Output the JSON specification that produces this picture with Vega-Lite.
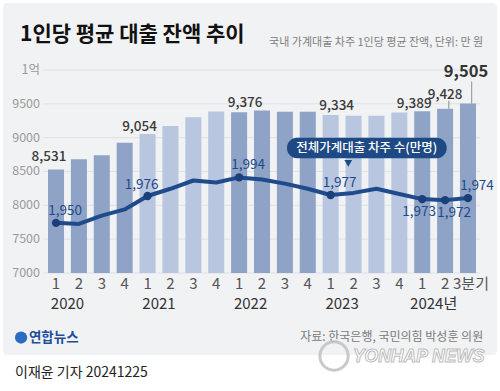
{
  "$schema": "https://vega.github.io/schema/vega-lite/v6.json",
  "width": 494,
  "height": 352,
  "autosize": {"type": "none"},
  "padding": {"left": 3, "top": 3, "right": 3, "bottom": 36},
  "background": "#ffffff",
  "config": {
    "view": {"fill": "#f1f2f4", "stroke": null, "cornerRadius": 4},
    "font": "Noto Sans CJK KR",
    "text": {"font": "Noto Sans CJK KR"}
  },
  "title": {
    "text": "1인당 평균 대출 잔액 추이",
    "anchor": "start",
    "frame": "group",
    "orient": "top",
    "offset": -59,
    "baseline": "alphabetic",
    "dx": 17,
    "fontSize": 21,
    "fontWeight": "bold",
    "color": "#111111",
    "font": "Noto Sans CJK KR"
  },
  "datasets": {
    "quarters": [
      {"key": "2020-1", "year": 2020, "q": 1, "amt": 8531, "cnt": 1950},
      {"key": "2020-2", "year": 2020, "q": 2, "amt": 8680, "cnt": 1949},
      {"key": "2020-3", "year": 2020, "q": 3, "amt": 8740, "cnt": 1957},
      {"key": "2020-4", "year": 2020, "q": 4, "amt": 8925, "cnt": 1963},
      {"key": "2021-1", "year": 2021, "q": 1, "amt": 9054, "cnt": 1976},
      {"key": "2021-2", "year": 2021, "q": 2, "amt": 9171, "cnt": 1983},
      {"key": "2021-3", "year": 2021, "q": 3, "amt": 9300, "cnt": 1991},
      {"key": "2021-4", "year": 2021, "q": 4, "amt": 9385, "cnt": 1989},
      {"key": "2022-1", "year": 2022, "q": 1, "amt": 9376, "cnt": 1994},
      {"key": "2022-2", "year": 2022, "q": 2, "amt": 9400, "cnt": 1992},
      {"key": "2022-3", "year": 2022, "q": 3, "amt": 9382, "cnt": 1988},
      {"key": "2022-4", "year": 2022, "q": 4, "amt": 9382, "cnt": 1983},
      {"key": "2023-1", "year": 2023, "q": 1, "amt": 9334, "cnt": 1977},
      {"key": "2023-2", "year": 2023, "q": 2, "amt": 9322, "cnt": 1979},
      {"key": "2023-3", "year": 2023, "q": 3, "amt": 9322, "cnt": 1983},
      {"key": "2023-4", "year": 2023, "q": 4, "amt": 9370, "cnt": 1978},
      {"key": "2024-1", "year": 2024, "q": 1, "amt": 9389, "cnt": 1973},
      {"key": "2024-2", "year": 2024, "q": 2, "amt": 9428, "cnt": 1972},
      {"key": "2024-3", "year": 2024, "q": 3, "amt": 9505, "cnt": 1974}
    ],
    "grid": [
      {"v": 7000}, {"v": 7500}, {"v": 8000}, {"v": 8500}, {"v": 9000}, {"v": 9500}, {"v": 10000}
    ]
  },
  "data": {"name": "quarters"},
  "encoding": {
    "x": {
      "field": "key",
      "type": "ordinal",
      "scale": {"type": "band", "range": [45, 473], "paddingInner": 0.3, "paddingOuter": 0},
      "axis": {
        "title": null,
        "orient": "bottom",
        "offset": -79,
        "domain": false,
        "ticks": false,
        "grid": false,
        "labelPadding": 0,
        "labelAngle": 0,
        "labelFontSize": 15,
        "labelColor": "#555555",
        "labelFont": "Noto Sans CJK KR",
        "labelBaseline": "top",
        "labelOffset": {"condition": {"test": "datum.value == '2024-3'", "value": 3}, "value": 0},
        "labelExpr": "slice(datum.value, 5) + (datum.value == '2024-3' ? '분기' : '')"
      }
    }
  },
  "layer": [
    {
      "layer": [
        {
          "data": {"name": "grid"},
          "mark": {"type": "rule", "color": "#dfe1e6", "strokeWidth": 1},
          "encoding": {
            "x": {"datum": "2020-1", "type": "ordinal", "bandPosition": -0.29},
            "x2": {"datum": "2024-3", "bandPosition": 1.25},
            "y": {"field": "v", "type": "quantitative", "scale": {"domain": [5788, 10990], "nice": false, "zero": false}, "axis": null}
          }
        },
        {
          "data": {"name": "grid"},
          "mark": {"type": "text", "align": "right", "baseline": "middle", "fontSize": 12.5, "color": "#9a9a9a"},
          "encoding": {
            "x": {"datum": "2020-1", "type": "ordinal", "bandPosition": -0.5},
            "y": {"field": "v", "type": "quantitative", "scale": {"domain": [5788, 10990], "nice": false, "zero": false}, "axis": null},
            "text": {"condition": {"test": "datum.v == 10000", "value": "1억"}, "field": "v", "type": "nominal"}
          }
        },
        {
          "mark": {"type": "bar"},
          "encoding": {
            "y": {"field": "amt", "type": "quantitative", "scale": {"domain": [5788, 10990], "nice": false, "zero": false}, "axis": null},
            "y2": {"datum": 7000},
            "color": {
              "field": "year",
              "type": "nominal",
              "scale": {"domain": [2020, 2021, 2022, 2023, 2024], "range": ["#8fa3c7", "#b8c6df", "#8fa3c7", "#b8c6df", "#8fa3c7"]},
              "legend": null
            }
          }
        },
        {
          "transform": [{"filter": "datum.key == '2020-1'"}],
          "mark": {"type": "text", "dx": -7, "dy": -8, "baseline": "alphabetic", "fontSize": 13.5, "color": "#3a3a3a", "fontWeight": 500},
          "encoding": {
            "y": {"field": "amt", "type": "quantitative", "scale": {"domain": [5788, 10990], "nice": false, "zero": false}, "axis": null},
            "text": {"field": "amt", "type": "quantitative", "format": ",d"}
          }
        },
        {
          "transform": [{"filter": "datum.key == '2021-1' || datum.key == '2024-1'"}],
          "mark": {"type": "text", "dx": -8, "dy": -3.5, "baseline": "alphabetic", "fontSize": 13.5, "color": "#3a3a3a", "fontWeight": 500},
          "encoding": {
            "y": {"field": "amt", "type": "quantitative", "scale": {"domain": [5788, 10990], "nice": false, "zero": false}, "axis": null},
            "text": {"field": "amt", "type": "quantitative", "format": ",d"}
          }
        },
        {
          "transform": [{"filter": "datum.q == 1 && (datum.year == 2022 || datum.year == 2023)"}],
          "mark": {"type": "text", "dx": 6, "dy": -5.5, "baseline": "alphabetic", "fontSize": 13.5, "color": "#3a3a3a", "fontWeight": 500},
          "encoding": {
            "y": {"field": "amt", "type": "quantitative", "scale": {"domain": [5788, 10990], "nice": false, "zero": false}, "axis": null},
            "text": {"field": "amt", "type": "quantitative", "format": ",d"}
          }
        },
        {
          "transform": [{"filter": "datum.key == '2024-2'"}],
          "mark": {"type": "text", "dx": 0, "dy": -10, "baseline": "alphabetic", "fontSize": 13.5, "color": "#3a3a3a", "fontWeight": 500},
          "encoding": {
            "y": {"field": "amt", "type": "quantitative", "scale": {"domain": [5788, 10990], "nice": false, "zero": false}, "axis": null},
            "text": {"field": "amt", "type": "quantitative", "format": ",d"}
          }
        },
        {
          "transform": [{"filter": "datum.key == '2024-3'"}],
          "mark": {"type": "text", "dx": -2, "dy": -26, "baseline": "alphabetic", "fontSize": 16.5, "color": "#333333", "fontWeight": "bold"},
          "encoding": {
            "y": {"field": "amt", "type": "quantitative", "scale": {"domain": [5788, 10990], "nice": false, "zero": false}, "axis": null},
            "text": {"field": "amt", "type": "quantitative", "format": ",d"}
          }
        },
        {
          "transform": [{"filter": "datum.key == '2024-3'"}],
          "mark": {"type": "rule", "color": "#777777", "strokeWidth": 0.8, "xOffset": 3.7, "y2Offset": -22},
          "encoding": {
            "y": {"field": "amt", "type": "quantitative", "scale": {"domain": [5788, 10990], "nice": false, "zero": false}, "axis": null},
            "y2": {"field": "amt"}
          }
        },
        {
          "transform": [{"filter": "datum.key == '2024-2'"}],
          "mark": {"type": "rule", "color": "#777777", "strokeWidth": 0.8, "xOffset": 3.7, "y2Offset": -8},
          "encoding": {
            "y": {"field": "amt", "type": "quantitative", "scale": {"domain": [5788, 10990], "nice": false, "zero": false}, "axis": null},
            "y2": {"field": "amt"}
          }
        },
        {
          "transform": [{"filter": "datum.key == '2020-1'"}],
          "mark": {"type": "rect", "cornerRadius": 10, "color": "#1d4a84"},
          "encoding": {
            "x": {"datum": "2022-3", "type": "ordinal", "bandPosition": 0.63},
            "x2": {"datum": "2024-2", "bandPosition": 0.6},
            "y": {"datum": 9000, "type": "quantitative", "scale": {"domain": [5788, 10990], "nice": false, "zero": false}, "axis": null},
            "y2": {"datum": 8695}
          }
        },
        {
          "transform": [{"filter": "datum.key == '2020-1'"}],
          "mark": {"type": "point", "shape": "triangle-down", "filled": true, "size": 60, "color": "#1d4a84", "opacity": 1},
          "encoding": {
            "x": {"datum": "2023-2", "type": "ordinal", "bandPosition": 0.17},
            "y": {"datum": 8621, "type": "quantitative", "scale": {"domain": [5788, 10990], "nice": false, "zero": false}, "axis": null}
          }
        },
        {
          "transform": [{"filter": "datum.key == '2020-1'"}],
          "mark": {"type": "text", "baseline": "middle", "align": "center", "fontSize": 12.5, "color": "#ffffff", "fontWeight": 500},
          "encoding": {
            "x": {"datum": "2023-2", "type": "ordinal", "bandPosition": 1.32},
            "y": {"datum": 8850, "type": "quantitative", "scale": {"domain": [5788, 10990], "nice": false, "zero": false}, "axis": null},
            "text": {"value": "전체가계대출 차주 수(만명)"}
          }
        },
        {
          "transform": [{"filter": "datum.q == 1"}],
          "mark": {"type": "text", "baseline": "middle", "align": "center", "fontSize": 15, "color": "#333333"},
          "encoding": {
            "x": {"field": "key", "type": "ordinal", "bandPosition": 1.215},
            "y": {"datum": 6542, "type": "quantitative", "scale": {"domain": [5788, 10990], "nice": false, "zero": false}, "axis": null},
            "text": {"condition": {"test": "datum.year == 2024", "value": "2024년"}, "field": "year", "type": "nominal"}
          }
        },
        {
          "transform": [{"filter": "datum.key == '2020-1'"}],
          "mark": {"type": "text", "baseline": "middle", "align": "right", "fontSize": 11, "color": "#808080"},
          "encoding": {
            "x": {"datum": "2024-3", "type": "ordinal", "bandPosition": 1.45},
            "y": {"datum": 10400, "type": "quantitative", "scale": {"domain": [5788, 10990], "nice": false, "zero": false}, "axis": null},
            "text": {"value": "국내 가계대출 차주 1인당 평균 잔액, 단위: 만 원"}
          }
        },
        {
          "transform": [{"filter": "datum.key == '2020-1'"}],
          "mark": {"type": "text", "baseline": "middle", "align": "right", "fontSize": 12, "color": "#7a7a7a"},
          "encoding": {
            "x": {"datum": "2024-3", "type": "ordinal", "bandPosition": 1.45},
            "y": {"datum": 6054, "type": "quantitative", "scale": {"domain": [5788, 10990], "nice": false, "zero": false}, "axis": null},
            "text": {"value": "자료: 한국은행, 국민의힘 박성훈 의원"}
          }
        },
        {
          "transform": [{"filter": "datum.key == '2020-1'"}],
          "mark": {"type": "point", "shape": "circle", "filled": true, "size": 150, "color": "#2a6cc2", "opacity": 1},
          "encoding": {
            "x": {"datum": "2020-1", "type": "ordinal", "bandPosition": -1.68},
            "y": {"datum": 6046, "type": "quantitative", "scale": {"domain": [5788, 10990], "nice": false, "zero": false}, "axis": null}
          }
        },
        {
          "transform": [{"filter": "datum.key == '2020-1'"}],
          "mark": {"type": "text", "baseline": "middle", "align": "left", "fontSize": 13.5, "fontWeight": "bold", "color": "#1d4e9b"},
          "encoding": {
            "x": {"datum": "2020-1", "type": "ordinal", "bandPosition": -1.19},
            "y": {"datum": 6046, "type": "quantitative", "scale": {"domain": [5788, 10990], "nice": false, "zero": false}, "axis": null},
            "text": {"value": "연합뉴스"}
          }
        },
        {
          "transform": [{"filter": "datum.key == '2020-1'"}],
          "mark": {"type": "text", "baseline": "middle", "align": "left", "fontSize": 14, "color": "#222222"},
          "encoding": {
            "x": {"datum": "2020-1", "type": "ordinal", "bandPosition": -2.06},
            "y": {"datum": 5522, "type": "quantitative", "scale": {"domain": [5788, 10990], "nice": false, "zero": false}, "axis": null},
            "text": {"value": "이재윤 기자  20241225"}
          }
        },
        {
          "transform": [{"filter": "datum.key == '2020-1'"}],
          "mark": {"type": "point", "shape": "circle", "filled": false, "size": 800, "stroke": "#c4c4c4", "strokeWidth": 3, "opacity": 0.9},
          "encoding": {
            "x": {"datum": "2022-4", "type": "ordinal", "bandPosition": 2.14},
            "y": {"datum": 5773, "type": "quantitative", "scale": {"domain": [5788, 10990], "nice": false, "zero": false}, "axis": null}
          }
        },
        {
          "transform": [{"filter": "datum.key == '2020-1'"}],
          "mark": {"type": "text", "baseline": "middle", "align": "left", "fontSize": 17.5, "fontWeight": "bold", "fontStyle": "italic", "font": "Liberation Sans", "fill": "#ffffff", "stroke": "#bdbdbd", "strokeWidth": 1},
          "encoding": {
            "x": {"datum": "2023-1", "type": "ordinal", "bandPosition": 1.89},
            "y": {"datum": 5758, "type": "quantitative", "scale": {"domain": [5788, 10990], "nice": false, "zero": false}, "axis": null},
            "text": {"value": "YONHAP NEWS"}
          }
        }
      ]
    },
    {
      "layer": [
        {
          "mark": {"type": "line", "color": "#1f4a8c", "strokeWidth": 4, "strokeCap": "round", "strokeJoin": "round"},
          "encoding": {
            "y": {"field": "cnt", "type": "quantitative", "scale": {"domain": [1822.1, 2162.8], "nice": false, "zero": false}, "axis": null}
          }
        },
        {
          "transform": [{"filter": "datum.q == 1 || datum.year == 2024"}],
          "mark": {"type": "point", "filled": true, "size": 70, "color": "#1b3f78", "opacity": 1},
          "encoding": {
            "y": {"field": "cnt", "type": "quantitative", "scale": {"domain": [1822.1, 2162.8], "nice": false, "zero": false}, "axis": null}
          }
        },
        {
          "transform": [{"filter": "(datum.q == 1 && datum.year != 2021 && datum.year != 2024) || datum.key == '2024-3'"}],
          "mark": {"type": "text", "dx": 9, "dy": -8, "baseline": "alphabetic", "fontSize": 13.5, "color": "#1f4a8a"},
          "encoding": {
            "y": {"field": "cnt", "type": "quantitative", "scale": {"domain": [1822.1, 2162.8], "nice": false, "zero": false}, "axis": null},
            "text": {"field": "cnt", "type": "quantitative", "format": ",d"}
          }
        },
        {
          "transform": [{"filter": "datum.key == '2021-1'"}],
          "mark": {"type": "text", "dx": -6, "dy": -7, "baseline": "alphabetic", "fontSize": 13.5, "color": "#1f4a8a"},
          "encoding": {
            "y": {"field": "cnt", "type": "quantitative", "scale": {"domain": [1822.1, 2162.8], "nice": false, "zero": false}, "axis": null},
            "text": {"field": "cnt", "type": "quantitative", "format": ",d"}
          }
        },
        {
          "transform": [{"filter": "datum.key == '2024-1'"}],
          "mark": {"type": "text", "dx": -3, "dy": 6, "baseline": "top", "fontSize": 13.5, "color": "#1f4a8a"},
          "encoding": {
            "y": {"field": "cnt", "type": "quantitative", "scale": {"domain": [1822.1, 2162.8], "nice": false, "zero": false}, "axis": null},
            "text": {"field": "cnt", "type": "quantitative", "format": ",d"}
          }
        },
        {
          "transform": [{"filter": "datum.key == '2024-2'"}],
          "mark": {"type": "text", "dx": 9, "dy": 6, "baseline": "top", "fontSize": 13.5, "color": "#1f4a8a"},
          "encoding": {
            "y": {"field": "cnt", "type": "quantitative", "scale": {"domain": [1822.1, 2162.8], "nice": false, "zero": false}, "axis": null},
            "text": {"field": "cnt", "type": "quantitative", "format": ",d"}
          }
        }
      ]
    }
  ],
  "resolve": {"scale": {"y": "independent"}}
}
